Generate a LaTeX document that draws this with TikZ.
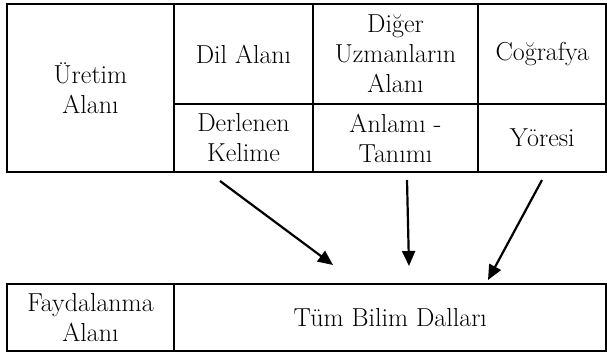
\documentclass[tikz,border=0pt]{standalone}
\usepackage{fontspec}
\usetikzlibrary{arrows.meta}
\begin{document}
\begin{tikzpicture}[x=1pt,y=-1pt,
  cell/.style={draw, line width=2.4pt, align=center, inner sep=0pt,
    font=\fontsize{26}{30}\selectfont},
  arr/.style={-{Triangle[length=15pt,width=13pt]}, line width=2.2pt}]
\useasboundingbox (0,0) rectangle (607,354);
% top table
\node[cell, minimum width=167pt, minimum height=168pt] (uretim) at (90.5,88) {Üretim\\Alanı};
\node[cell, minimum width=139pt, minimum height=100pt] (dil) at (243.5,54) {Dil Alanı};
\node[cell, minimum width=165pt, minimum height=100pt] (diger) at (395.5,54) {Diğer\\Uzmanların\\Alanı};
\node[cell, minimum width=128.5pt, minimum height=100pt] (cog) at (542.25,54) {Coğrafya};
\node[cell, minimum width=139pt, minimum height=68pt] (derl) at (243.5,138) {Derlenen\\Kelime};
\node[cell, minimum width=165pt, minimum height=68pt] (anl) at (395.5,138) {Anlamı -\\Tanımı};
\node[cell, minimum width=128.5pt, minimum height=68pt] (yor) at (542.25,138) {Yöresi};
% bottom table
\node[cell, minimum width=167pt, minimum height=67pt] (fayda) at (90.5,317.5) {Faydalanma\\Alanı};
\node[cell, minimum width=432.5pt, minimum height=67pt] (tum) at (390.25,317.5) {Tüm Bilim Dalları};
% arrows
\coordinate (s1) at (220,181);
\coordinate (e1) at (333,265);
\coordinate (s2) at (407,180);
\coordinate (e2) at (409,266);
\coordinate (s3) at (542,180);
\coordinate (e3) at (488,280);
\draw[arr] (s1) -- (e1);
\draw[arr] (s2) -- (e2);
\draw[arr] (s3) -- (e3);
\end{tikzpicture}
\end{document}
